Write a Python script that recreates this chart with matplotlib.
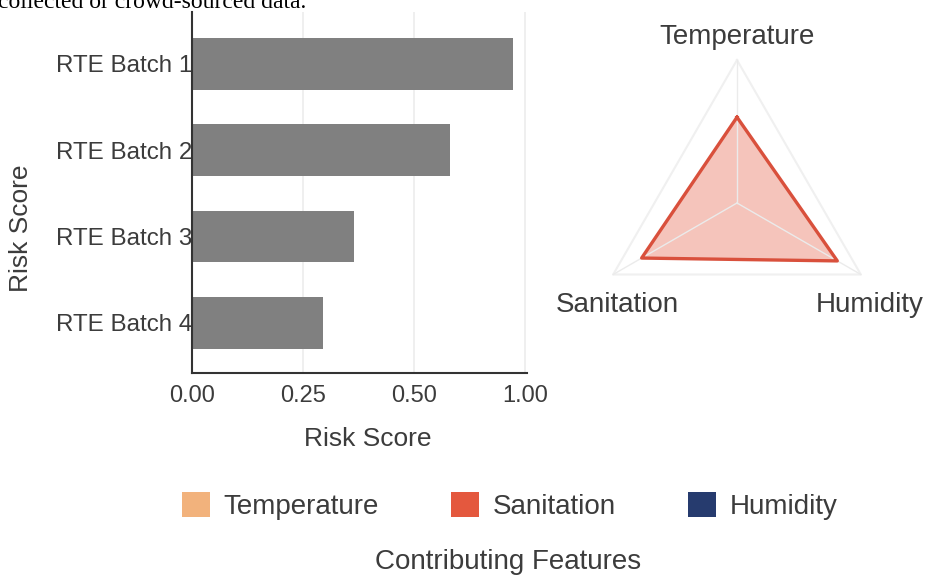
import numpy as np
import matplotlib
matplotlib.use("Agg")
import matplotlib.pyplot as plt
from matplotlib.patches import Patch

plt.rcParams['font.family'] = ['Liberation Sans', 'DejaVu Sans']

batches = ['RTE Batch 1', 'RTE Batch 2', 'RTE Batch 3', 'RTE Batch 4']
risk = [0.723, 0.58, 0.365, 0.295]
x_ticks = [0, 0.25, 0.5, 0.75]
x_ticklabels = ['0.00', '0.25', '0.50', '1.00']

features = ['Temperature', 'Humidity', 'Sanitation']
feature_vals = [0.60, 0.81, 0.77]

legend_names = ['Temperature', 'Sanitation', 'Humidity']
legend_colors = ['#f2b27c', '#e4583e', '#263b6e']

text_c = '#3c3c3c'

fig = plt.figure(figsize=(9.28, 5.78), dpi=100)

# cut-off caption line from the page above
fig.text(-0.002, 1 - 8 / 578, 'collected or crowd-sourced data.', family='Liberation Serif',
         fontsize=17, color='black', va='baseline', ha='left')

# bar chart
ax = fig.add_axes([192 / 928, 1 - 373 / 578, 335 / 928, 361 / 578])
y = np.arange(len(batches))
ax.barh(y, risk, height=0.6, color='#808080', zorder=2)
ax.set_ylim(3.58, -0.6)
ax.set_xlim(0, 0.7545)
ax.set_yticks(y)
ax.set_yticklabels(batches, fontsize=17.4, color=text_c)
ax.set_xticks(x_ticks)
ax.set_xticklabels(x_ticklabels, fontsize=17, color=text_c)
ax.tick_params(axis='y', length=0, pad=0)
ax.tick_params(axis='x', length=0, pad=9)
ax.grid(axis='x', color='#ececec', linewidth=1.2, zorder=0)
for s in ['top', 'right']:
    ax.spines[s].set_visible(False)
for s in ['left', 'bottom']:
    ax.spines[s].set_color('#333333')
    ax.spines[s].set_linewidth(1.5)
ax.set_xlabel('Risk Score', fontsize=19, color=text_c)
ax.xaxis.set_label_coords(0.525, -0.15)
ax.set_ylabel('Risk Score', fontsize=19, color=text_c)
ax.yaxis.set_label_coords(-0.476, 0.40)

# radar chart
rad = fig.add_axes([594 / 928, 1 - 346 / 578, 286 / 928, 286 / 578], projection='polar')
rad.set_theta_offset(np.pi / 2)
rad.set_theta_direction(-1)
angles = np.linspace(0, 2 * np.pi, len(features), endpoint=False)
closed_a = np.append(angles, angles[0])
rad.plot(closed_a, [1] * len(closed_a), color='#f0f0f0', linewidth=1.5, clip_on=False)
for a in angles:
    rad.plot([a, a], [0, 1], color='#ebebeb', linewidth=1.0, clip_on=False)
vals = np.append(feature_vals, feature_vals[0])
rad.fill(closed_a, vals, color='#e4583e', alpha=0.35, linewidth=0)
rad.plot(closed_a, vals, color='#d9503c', linewidth=2.4)
rad.set_ylim(0, 1)
rad.set_xticks([])
rad.set_yticks([])
rad.grid(False)
rad.spines['polar'].set_visible(False)
rad.patch.set_alpha(0)

label_pos = {'Temperature': (0.0, 1.16), 'Humidity': (np.deg2rad(127.5), 1.17),
             'Sanitation': (np.deg2rad(229.6), 1.10)}
for f in features:
    th, r = label_pos[f]
    rad.text(th, r, f, fontsize=20, color=text_c, ha='center', va='center')

# legend
handles = [Patch(facecolor=c, edgecolor='none') for c in legend_colors]
fig.legend(handles, legend_names, loc='center', bbox_to_anchor=(510 / 928, 1 - 506 / 578),
           ncol=3, frameon=False, fontsize=20, handlelength=1.0, handleheight=1.0,
           handletextpad=0.5, columnspacing=2.6, labelcolor=text_c)
fig.text(508 / 928, 1 - 562 / 578, 'Contributing Features', fontsize=20, color=text_c,
         ha='center', va='center')

fig.savefig('out.png', dpi=100)
